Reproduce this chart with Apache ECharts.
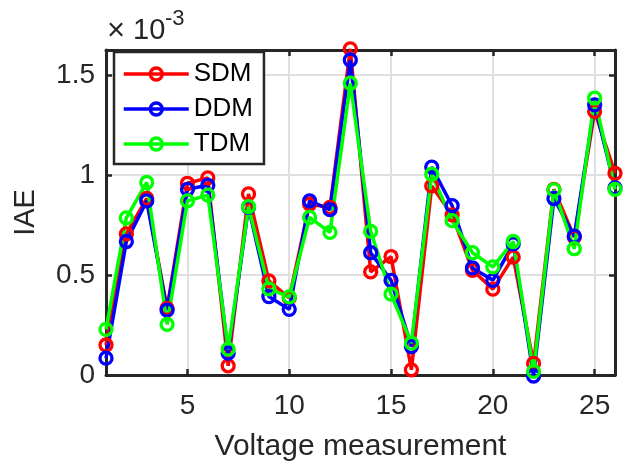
<!DOCTYPE html>
<html>
<head>
<meta charset="utf-8">
<script src="https://cdn.jsdelivr.net/npm/echarts@6/dist/echarts.min.js"></script>
<style>
  html, body { margin: 0; padding: 0; background: #fff; }
  #chart { width: 628px; height: 467px; }
</style>
</head>
<body>
<div id="chart"></div>
<script>
// IAE per voltage measurement, in units of 1e-3
const measurements = Array.from({ length: 26 }, (_, i) => i + 1);
const sdm = [0.150, 0.705, 0.882, 0.333, 0.958, 0.985, 0.046, 0.905, 0.470, 0.385, 0.854, 0.837, 1.630, 0.515, 0.592, 0.026, 0.945, 0.800, 0.523, 0.429, 0.589, 0.058, 0.928, 0.689, 1.317, 1.008];
const ddm = [0.084, 0.667, 0.870, 0.324, 0.928, 0.948, 0.109, 0.838, 0.392, 0.328, 0.870, 0.826, 1.574, 0.611, 0.473, 0.142, 1.039, 0.846, 0.535, 0.473, 0.655, -0.005, 0.882, 0.694, 1.350, 0.935];
const tdm = [0.228, 0.785, 0.962, 0.253, 0.870, 0.899, 0.129, 0.841, 0.430, 0.390, 0.788, 0.713, 1.458, 0.718, 0.404, 0.159, 1.003, 0.771, 0.611, 0.540, 0.667, 0.018, 0.925, 0.631, 1.384, 0.928];
const xTicks = [5, 10, 15, 20, 25];
const yTicks = [0, 0.5, 1, 1.5];

const font = '"Liberation Sans", Arial, sans-serif';
const axisColor = '#262626';
const gridColor = '#e0e0e0';

const chart = echarts.init(document.getElementById('chart'));

const makeSeries = (name, values, color) => ({
	name: name,
	type: 'line',
	data: values.map((v, i) => [measurements[i], v]),
	symbol: 'circle',
	symbolSize: 12,
	clip: false,
	lineStyle: { color: color, width: 3.5 },
	itemStyle: { color: 'rgba(255,255,255,0)', borderColor: color, borderWidth: 3.3 },
	emphasis: { disabled: true }
});

const tick = (values) => ({ show: true, inside: true, length: 6, customValues: values, lineStyle: { color: axisColor, width: 2.5 } });

const frameAxis = (extra) => Object.assign({
	type: 'value',
	axisLine: { show: true, onZero: false, lineStyle: { color: axisColor, width: 3 } },
	splitLine: { show: false },
	axisLabel: { show: false }
}, extra);

chart.setOption({
	animation: false,
	grid: { left: 106, right: 13, top: 50, bottom: 90 },
	legend: {
		orient: 'vertical',
		left: 114,
		top: 52,
		padding: [8, 11, 6, 8],
		itemWidth: 65,
		itemHeight: 15,
		itemGap: 7,
		backgroundColor: '#fff',
		borderColor: axisColor,
		borderWidth: 2.5,
		borderRadius: 0,
		lineStyle: { width: 3.5 },
		itemStyle: { borderWidth: 3.3 },
		textStyle: { fontFamily: font, fontSize: 26, lineHeight: 28, color: '#000' },
		data: ['SDM', 'DDM', 'TDM']
	},
	xAxis: [
		frameAxis({
			min: 1, max: 26,
			position: 'bottom',
			name: 'Voltage measurement',
			nameLocation: 'middle',
			nameGap: 57,
			nameTextStyle: { fontFamily: font, fontSize: 30, color: axisColor },
			axisTick: tick(xTicks),
			axisLabel: { show: true, customValues: xTicks, margin: 17, fontFamily: font, fontSize: 28, color: axisColor },
			splitLine: { show: true, lineStyle: { color: gridColor, width: 2 } }
		}),
		frameAxis({
			min: 1, max: 26,
			position: 'top',
			axisTick: tick(xTicks)
		})
	],
	yAxis: [
		frameAxis({
			min: 0, max: 1.624,
			position: 'left',
			name: 'IAE',
			nameLocation: 'middle',
			nameGap: 66,
			nameTextStyle: { fontFamily: font, fontSize: 29, color: axisColor },
			axisTick: tick(yTicks),
			axisLabel: { show: true, customValues: yTicks, margin: 11, fontFamily: font, fontSize: 28, color: axisColor },
			splitLine: { show: true, lineStyle: { color: gridColor, width: 2 } }
		}),
		frameAxis({
			min: 0, max: 1.624,
			position: 'right',
			axisTick: tick(yTicks)
		})
	],
	graphic: [
		{ type: 'text', left: 107, top: 16, style: { text: '×', font: '31px ' + font, fill: axisColor } },
		{ type: 'text', left: 133, top: 16, style: { text: '10', font: '29px ' + font, fill: axisColor } },
		{ type: 'text', left: 165, top: 8, style: { text: '-3', font: '22px ' + font, fill: axisColor } }
	],
	series: [
		makeSeries('SDM', sdm, '#ff0000'),
		makeSeries('DDM', ddm, '#0000ff'),
		makeSeries('TDM', tdm, '#00ff00')
	]
});
</script>
</body>
</html>
